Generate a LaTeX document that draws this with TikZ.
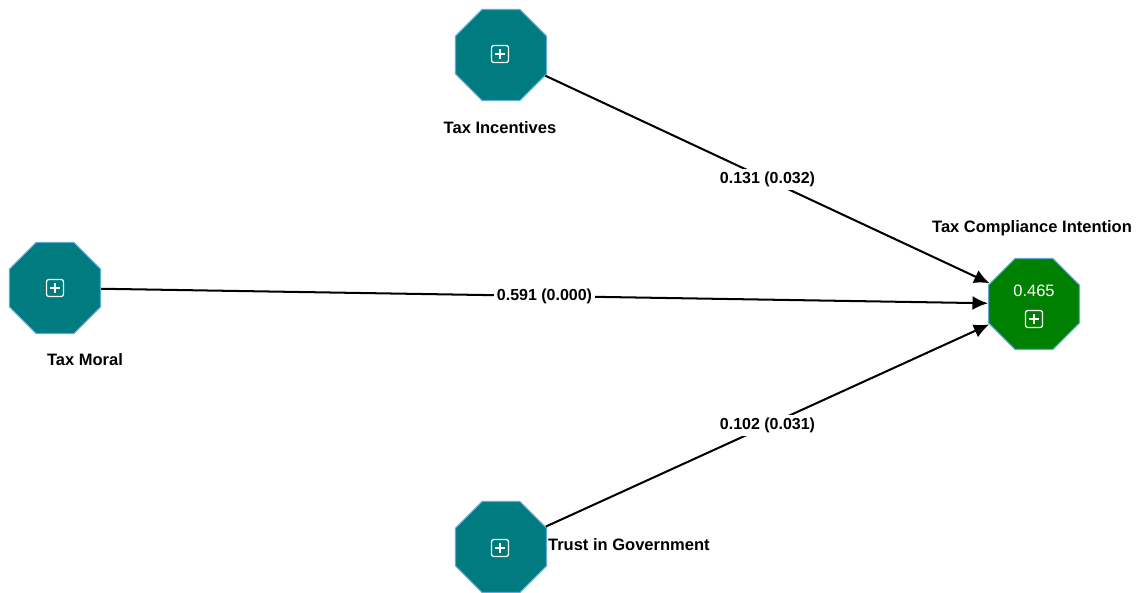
\documentclass[tikz,border=0pt]{standalone}
\usepackage{fontspec}
\setmainfont{Liberation Sans}
\usepackage{tikz}
\usetikzlibrary{shapes.geometric,arrows.meta}
\definecolor{constructteal}{RGB}{0,123,127}
\definecolor{constructgreen}{RGB}{0,128,0}
\definecolor{constructedge}{RGB}{95,170,215}
\tikzset{
  construct/.style={draw=constructedge,line width=0.6pt,fill=constructteal,regular polygon,
    regular polygon sides=8,minimum size=1.97cm,inner sep=0pt},
  constructname/.style={font=\fontsize{9.4}{11}\selectfont\bfseries,inner sep=1pt},
  pathline/.style={line width=1.15pt,-{Latex[length=0.31cm,width=0.28cm]}},
  coef/.style={fill=white,font=\fontsize{9.1}{11}\selectfont\bfseries,inner sep=1.5pt},
  expandicon/.style={draw=white,line width=0.7pt,rounded corners=1.3pt,inner sep=0pt,
    minimum size=0.34cm}
}
\newcommand{\tikzExpandIcon}[2]{
  \node[expandicon] (#1) at (#2) {};
  \path[draw,white,line width=0.7pt] (#1.center) ++(-5,0) -- ++(10,0) (#1.center) ++(0,-5) -- ++(0,10);
}

\begin{document}
\begin{tikzpicture}[x=0.02cm,y=-0.02cm]
  \useasboundingbox (0,0) rectangle (1138,592);

  %constructs
  \node[construct] (incent) at (501,55) {};
  \node[construct] (moral) at (55,288) {};
  \node[construct] (trust) at (501,547) {};
  \node[construct,fill=constructgreen] (intent) at (1034,304) {};

  %icons
  \tikzExpandIcon{incenticon}{500,54}
  \tikzExpandIcon{moralicon}{55,288}
  \tikzExpandIcon{trusticon}{500,548}
  \tikzExpandIcon{intenticon}{1034,319}
  \node[text=white,font=\fontsize{9.4}{11}\selectfont] (rsq) at (1034,291) {0.465};

  %names
  \node[constructname] (incentname) at (500,128) {Tax Incentives};
  \node[constructname] (moralname) at (85,360) {Tax Moral};
  \node[constructname,anchor=west] (trustname) at (546,545) {Trust in Government};
  \node[constructname] (intentname) at (1032,228) {Tax Compliance Intention};

  %paths
  \draw[pathline] (incent) -- node[coef] {0.131 (0.032)} (intent);
  \draw[pathline] (moral) -- node[coef] {0.591 (0.000)} (intent);
  \draw[pathline] (trust) -- node[coef] {0.102 (0.031)} (intent);
\end{tikzpicture}
\end{document}
